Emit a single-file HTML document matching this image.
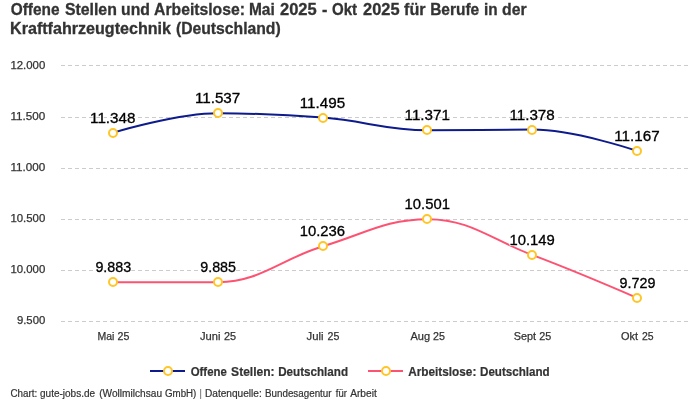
<!DOCTYPE html>
<html lang="de"><head><meta charset="utf-8"><title>Chart</title>
<style>html,body{margin:0;padding:0;background:#fff;overflow:hidden}svg{display:block;will-change:transform}text{white-space:pre}</style></head>
<body>
<svg width="700" height="400" viewBox="0 0 700 400" font-family="'Liberation Sans', sans-serif">
<rect width="700" height="400" fill="#fff"/>
<text x="10.70" y="14.8" font-size="16" font-weight="bold" fill="#333" textLength="48.80" lengthAdjust="spacingAndGlyphs" stroke="#333" stroke-width="0.3">Offene</text>
<text x="64.90" y="14.8" font-size="16" font-weight="bold" fill="#333" textLength="51.97" lengthAdjust="spacingAndGlyphs" stroke="#333" stroke-width="0.3">Stellen</text>
<text x="121.12" y="14.8" font-size="16" font-weight="bold" fill="#333" textLength="28.84" lengthAdjust="spacingAndGlyphs" stroke="#333" stroke-width="0.3">und</text>
<text x="154.10" y="14.8" font-size="16" font-weight="bold" fill="#333" textLength="90.80" lengthAdjust="spacingAndGlyphs" stroke="#333" stroke-width="0.3">Arbeitslose:</text>
<text x="248.93" y="14.8" font-size="16" font-weight="bold" fill="#333" textLength="25.80" lengthAdjust="spacingAndGlyphs" stroke="#333" stroke-width="0.3">Mai</text>
<text x="280.00" y="14.8" font-size="16" font-weight="bold" fill="#333" textLength="36.70" lengthAdjust="spacingAndGlyphs" stroke="#333" stroke-width="0.3">2025</text>
<text x="322.00" y="14.8" font-size="16" font-weight="bold" fill="#333" textLength="5.33" lengthAdjust="spacingAndGlyphs" stroke="#333" stroke-width="0.3">-</text>
<text x="332.00" y="14.8" font-size="16" font-weight="bold" fill="#333" textLength="25.07" lengthAdjust="spacingAndGlyphs" stroke="#333" stroke-width="0.3">Okt</text>
<text x="363.00" y="14.8" font-size="16" font-weight="bold" fill="#333" textLength="36.50" lengthAdjust="spacingAndGlyphs" stroke="#333" stroke-width="0.3">2025</text>
<text x="404.10" y="14.8" font-size="16" font-weight="bold" fill="#333" textLength="21.53" lengthAdjust="spacingAndGlyphs" stroke="#333" stroke-width="0.3">für</text>
<text x="430.13" y="14.8" font-size="16" font-weight="bold" fill="#333" textLength="49.07" lengthAdjust="spacingAndGlyphs" stroke="#333" stroke-width="0.3">Berufe</text>
<text x="483.94" y="14.8" font-size="16" font-weight="bold" fill="#333" textLength="13.60" lengthAdjust="spacingAndGlyphs" stroke="#333" stroke-width="0.3">in</text>
<text x="502.10" y="14.8" font-size="16" font-weight="bold" fill="#333" textLength="24.52" lengthAdjust="spacingAndGlyphs" stroke="#333" stroke-width="0.3">der</text>
<text x="10.09" y="33.7" font-size="16" font-weight="bold" fill="#333" textLength="160.90" lengthAdjust="spacingAndGlyphs" stroke="#333" stroke-width="0.3">Kraftfahrzeugtechnik</text>
<text x="175.90" y="33.7" font-size="16" font-weight="bold" fill="#333" textLength="104.82" lengthAdjust="spacingAndGlyphs" stroke="#333" stroke-width="0.3">(Deutschland)</text>
<path d="M 61 65.5 L 690 65.5" stroke="#cccccc" stroke-width="1" stroke-dasharray="4,3" fill="none"/>
<path d="M 61 117.5 L 690 117.5" stroke="#cccccc" stroke-width="1" stroke-dasharray="4,3" fill="none"/>
<path d="M 61 168.5 L 690 168.5" stroke="#cccccc" stroke-width="1" stroke-dasharray="4,3" fill="none"/>
<path d="M 61 219.5 L 690 219.5" stroke="#cccccc" stroke-width="1" stroke-dasharray="4,3" fill="none"/>
<path d="M 61 270.5 L 690 270.5" stroke="#cccccc" stroke-width="1" stroke-dasharray="4,3" fill="none"/>
<path d="M 61 321.5 L 690 321.5" stroke="#cccccc" stroke-width="1" stroke-dasharray="4,3" fill="none"/>
<text x="10.40" y="68.8" font-size="10.7" font-weight="normal" fill="#333" textLength="34.84" lengthAdjust="spacingAndGlyphs" stroke="#333" stroke-width="0.25">12.000</text>
<text x="10.40" y="119.9" font-size="10.7" font-weight="normal" fill="#333" textLength="34.84" lengthAdjust="spacingAndGlyphs" stroke="#333" stroke-width="0.25">11.500</text>
<text x="10.40" y="171.0" font-size="10.7" font-weight="normal" fill="#333" textLength="34.84" lengthAdjust="spacingAndGlyphs" stroke="#333" stroke-width="0.25">11.000</text>
<text x="10.40" y="222.2" font-size="10.7" font-weight="normal" fill="#333" textLength="34.84" lengthAdjust="spacingAndGlyphs" stroke="#333" stroke-width="0.25">10.500</text>
<text x="10.40" y="273.2" font-size="10.7" font-weight="normal" fill="#333" textLength="34.84" lengthAdjust="spacingAndGlyphs" stroke="#333" stroke-width="0.25">10.000</text>
<text x="16.90" y="324.4" font-size="10.7" font-weight="normal" fill="#333" textLength="28.34" lengthAdjust="spacingAndGlyphs" stroke="#333" stroke-width="0.25">9.500</text>
<text x="97.50" y="339.8" font-size="11" font-weight="normal" fill="#333" textLength="16.92" lengthAdjust="spacingAndGlyphs" stroke="#333" stroke-width="0.25">Mai</text>
<text x="117.50" y="339.8" font-size="11" font-weight="normal" fill="#333" textLength="11.81" lengthAdjust="spacingAndGlyphs" stroke="#333" stroke-width="0.25">25</text>
<text x="200.00" y="339.8" font-size="11" font-weight="normal" fill="#333" textLength="20.45" lengthAdjust="spacingAndGlyphs" stroke="#333" stroke-width="0.25">Juni</text>
<text x="224.00" y="339.8" font-size="11" font-weight="normal" fill="#333" textLength="12.12" lengthAdjust="spacingAndGlyphs" stroke="#333" stroke-width="0.25">25</text>
<text x="306.50" y="339.8" font-size="11" font-weight="normal" fill="#333" textLength="16.96" lengthAdjust="spacingAndGlyphs" stroke="#333" stroke-width="0.25">Juli</text>
<text x="327.50" y="339.8" font-size="11" font-weight="normal" fill="#333" textLength="11.81" lengthAdjust="spacingAndGlyphs" stroke="#333" stroke-width="0.25">25</text>
<text x="410.50" y="339.8" font-size="11" font-weight="normal" fill="#333" textLength="19.62" lengthAdjust="spacingAndGlyphs" stroke="#333" stroke-width="0.25">Aug</text>
<text x="433.00" y="339.8" font-size="11" font-weight="normal" fill="#333" textLength="11.91" lengthAdjust="spacingAndGlyphs" stroke="#333" stroke-width="0.25">25</text>
<text x="513.80" y="339.8" font-size="11" font-weight="normal" fill="#333" textLength="22.26" lengthAdjust="spacingAndGlyphs" stroke="#333" stroke-width="0.25">Sept</text>
<text x="539.30" y="339.8" font-size="11" font-weight="normal" fill="#333" textLength="12.02" lengthAdjust="spacingAndGlyphs" stroke="#333" stroke-width="0.25">25</text>
<text x="621.00" y="339.8" font-size="11" font-weight="normal" fill="#333" textLength="17.06" lengthAdjust="spacingAndGlyphs" stroke="#333" stroke-width="0.25">Okt</text>
<text x="642.00" y="339.8" font-size="11" font-weight="normal" fill="#333" textLength="11.61" lengthAdjust="spacingAndGlyphs" stroke="#333" stroke-width="0.25">25</text>
<path d="M 113.42 132.63 C 113.42 132.63 176.32 113.32 218.25 113.32 C 260.18 113.32 281.15 114.22 323.08 117.61 C 365.02 121.00 385.98 130.28 427.92 130.28 C 469.85 130.28 490.82 129.57 532.75 129.57 C 574.68 129.57 637.58 151.13 637.58 151.13" fill="none" stroke="#0d1b8c" stroke-width="2" stroke-linejoin="round" stroke-linecap="round"/>
<circle cx="113.00" cy="133.00" r="4" fill="#fff" stroke="#ffc628" stroke-width="2"/>
<circle cx="218.00" cy="113.00" r="4" fill="#fff" stroke="#ffc628" stroke-width="2"/>
<circle cx="323.00" cy="118.00" r="4" fill="#fff" stroke="#ffc628" stroke-width="2"/>
<circle cx="427.00" cy="130.00" r="4" fill="#fff" stroke="#ffc628" stroke-width="2"/>
<circle cx="532.00" cy="130.00" r="4" fill="#fff" stroke="#ffc628" stroke-width="2"/>
<circle cx="637.00" cy="151.00" r="4" fill="#fff" stroke="#ffc628" stroke-width="2"/>
<path d="M 113.42 282.36 C 113.42 282.36 176.32 282.36 218.25 282.15 C 260.18 281.95 281.15 258.87 323.08 246.28 C 365.02 233.69 385.98 219.20 427.92 219.20 C 469.85 219.20 490.82 239.39 532.75 255.17 C 574.68 270.95 637.58 298.10 637.58 298.10" fill="none" stroke="#fd5372" stroke-width="2" stroke-linejoin="round" stroke-linecap="round"/>
<circle cx="113.00" cy="282.00" r="4" fill="#fff" stroke="#ffc628" stroke-width="2"/>
<circle cx="218.00" cy="282.00" r="4" fill="#fff" stroke="#ffc628" stroke-width="2"/>
<circle cx="323.00" cy="246.00" r="4" fill="#fff" stroke="#ffc628" stroke-width="2"/>
<circle cx="427.00" cy="219.00" r="4" fill="#fff" stroke="#ffc628" stroke-width="2"/>
<circle cx="532.00" cy="255.00" r="4" fill="#fff" stroke="#ffc628" stroke-width="2"/>
<circle cx="637.00" cy="298.00" r="4" fill="#fff" stroke="#ffc628" stroke-width="2"/>
<text x="90.08" y="123.0" font-size="14" font-weight="normal" fill="#000" textLength="45.35" lengthAdjust="spacingAndGlyphs" stroke="#fff" stroke-width="2" stroke-linejoin="round">11.348</text>
<text x="90.08" y="123.0" font-size="14" font-weight="normal" fill="#000" textLength="45.35" lengthAdjust="spacingAndGlyphs" stroke="#000" stroke-width="0.3">11.348</text>
<text x="194.91" y="103.0" font-size="14" font-weight="normal" fill="#000" textLength="45.35" lengthAdjust="spacingAndGlyphs" stroke="#fff" stroke-width="2" stroke-linejoin="round">11.537</text>
<text x="194.91" y="103.0" font-size="14" font-weight="normal" fill="#000" textLength="45.35" lengthAdjust="spacingAndGlyphs" stroke="#000" stroke-width="0.3">11.537</text>
<text x="299.75" y="108.0" font-size="14" font-weight="normal" fill="#000" textLength="45.35" lengthAdjust="spacingAndGlyphs" stroke="#fff" stroke-width="2" stroke-linejoin="round">11.495</text>
<text x="299.75" y="108.0" font-size="14" font-weight="normal" fill="#000" textLength="45.35" lengthAdjust="spacingAndGlyphs" stroke="#000" stroke-width="0.3">11.495</text>
<text x="404.58" y="120.0" font-size="14" font-weight="normal" fill="#000" textLength="45.35" lengthAdjust="spacingAndGlyphs" stroke="#fff" stroke-width="2" stroke-linejoin="round">11.371</text>
<text x="404.58" y="120.0" font-size="14" font-weight="normal" fill="#000" textLength="45.35" lengthAdjust="spacingAndGlyphs" stroke="#000" stroke-width="0.3">11.371</text>
<text x="509.41" y="120.0" font-size="14" font-weight="normal" fill="#000" textLength="45.35" lengthAdjust="spacingAndGlyphs" stroke="#fff" stroke-width="2" stroke-linejoin="round">11.378</text>
<text x="509.41" y="120.0" font-size="14" font-weight="normal" fill="#000" textLength="45.35" lengthAdjust="spacingAndGlyphs" stroke="#000" stroke-width="0.3">11.378</text>
<text x="614.25" y="141.0" font-size="14" font-weight="normal" fill="#000" textLength="45.35" lengthAdjust="spacingAndGlyphs" stroke="#fff" stroke-width="2" stroke-linejoin="round">11.167</text>
<text x="614.25" y="141.0" font-size="14" font-weight="normal" fill="#000" textLength="45.35" lengthAdjust="spacingAndGlyphs" stroke="#000" stroke-width="0.3">11.167</text>
<text x="95.42" y="272.0" font-size="14" font-weight="normal" fill="#000" textLength="35.78" lengthAdjust="spacingAndGlyphs" stroke="#fff" stroke-width="2" stroke-linejoin="round">9.883</text>
<text x="95.42" y="272.0" font-size="14" font-weight="normal" fill="#000" textLength="35.78" lengthAdjust="spacingAndGlyphs" stroke="#000" stroke-width="0.3">9.883</text>
<text x="200.25" y="272.0" font-size="14" font-weight="normal" fill="#000" textLength="35.78" lengthAdjust="spacingAndGlyphs" stroke="#fff" stroke-width="2" stroke-linejoin="round">9.885</text>
<text x="200.25" y="272.0" font-size="14" font-weight="normal" fill="#000" textLength="35.78" lengthAdjust="spacingAndGlyphs" stroke="#000" stroke-width="0.3">9.885</text>
<text x="299.77" y="236.0" font-size="14" font-weight="normal" fill="#000" textLength="45.33" lengthAdjust="spacingAndGlyphs" stroke="#fff" stroke-width="2" stroke-linejoin="round">10.236</text>
<text x="299.77" y="236.0" font-size="14" font-weight="normal" fill="#000" textLength="45.33" lengthAdjust="spacingAndGlyphs" stroke="#000" stroke-width="0.3">10.236</text>
<text x="404.61" y="209.0" font-size="14" font-weight="normal" fill="#000" textLength="45.33" lengthAdjust="spacingAndGlyphs" stroke="#fff" stroke-width="2" stroke-linejoin="round">10.501</text>
<text x="404.61" y="209.0" font-size="14" font-weight="normal" fill="#000" textLength="45.33" lengthAdjust="spacingAndGlyphs" stroke="#000" stroke-width="0.3">10.501</text>
<text x="509.44" y="245.0" font-size="14" font-weight="normal" fill="#000" textLength="45.33" lengthAdjust="spacingAndGlyphs" stroke="#fff" stroke-width="2" stroke-linejoin="round">10.149</text>
<text x="509.44" y="245.0" font-size="14" font-weight="normal" fill="#000" textLength="45.33" lengthAdjust="spacingAndGlyphs" stroke="#000" stroke-width="0.3">10.149</text>
<text x="619.58" y="288.0" font-size="14" font-weight="normal" fill="#000" textLength="35.78" lengthAdjust="spacingAndGlyphs" stroke="#fff" stroke-width="2" stroke-linejoin="round">9.729</text>
<text x="619.58" y="288.0" font-size="14" font-weight="normal" fill="#000" textLength="35.78" lengthAdjust="spacingAndGlyphs" stroke="#000" stroke-width="0.3">9.729</text>
<path d="M 150 371 L 185 371" stroke="#0d1b8c" stroke-width="2" fill="none"/>
<circle cx="168" cy="371" r="4" fill="#fff" stroke="#ffc628" stroke-width="2"/>
<text x="190.70" y="375.6" font-size="12" font-weight="bold" fill="#333" textLength="36.09" lengthAdjust="spacingAndGlyphs" stroke="#333" stroke-width="0.2">Offene</text>
<text x="231.10" y="375.6" font-size="12" font-weight="bold" fill="#333" textLength="43.50" lengthAdjust="spacingAndGlyphs" stroke="#333" stroke-width="0.2">Stellen:</text>
<text x="278.20" y="375.6" font-size="12" font-weight="bold" fill="#333" textLength="69.82" lengthAdjust="spacingAndGlyphs" stroke="#333" stroke-width="0.2">Deutschland</text>
<path d="M 368 371 L 403 371" stroke="#fd5372" stroke-width="2" fill="none"/>
<circle cx="386" cy="371" r="4" fill="#fff" stroke="#ffc628" stroke-width="2"/>
<text x="408.20" y="375.6" font-size="12" font-weight="bold" fill="#333" textLength="68.18" lengthAdjust="spacingAndGlyphs" stroke="#333" stroke-width="0.2">Arbeitslose:</text>
<text x="480.00" y="375.6" font-size="12" font-weight="bold" fill="#333" textLength="69.72" lengthAdjust="spacingAndGlyphs" stroke="#333" stroke-width="0.2">Deutschland</text>
<text x="10.50" y="397.0" font-size="10" font-weight="normal" fill="#333" textLength="26.76" lengthAdjust="spacingAndGlyphs" stroke="#333" stroke-width="0.2">Chart:</text>
<text x="40.00" y="397.0" font-size="10" font-weight="normal" fill="#333" textLength="55.06" lengthAdjust="spacingAndGlyphs" stroke="#333" stroke-width="0.2">gute-jobs.de</text>
<text x="99.20" y="397.0" font-size="10" font-weight="normal" fill="#333" textLength="62.87" lengthAdjust="spacingAndGlyphs" stroke="#333" stroke-width="0.2">(Wollmilchsau</text>
<text x="165.00" y="397.0" font-size="10" font-weight="normal" fill="#333" textLength="31.32" lengthAdjust="spacingAndGlyphs" stroke="#333" stroke-width="0.2">GmbH)</text>
<text x="199.90" y="397.0" font-size="10" font-weight="normal" fill="#333" textLength="1.56" lengthAdjust="spacingAndGlyphs" stroke="#333" stroke-width="0.2">|</text>
<text x="205.00" y="397.0" font-size="10" font-weight="normal" fill="#333" textLength="56.79" lengthAdjust="spacingAndGlyphs" stroke="#333" stroke-width="0.2">Datenquelle:</text>
<text x="265.00" y="397.0" font-size="10" font-weight="normal" fill="#333" textLength="66.54" lengthAdjust="spacingAndGlyphs" stroke="#333" stroke-width="0.2">Bundesagentur</text>
<text x="335.80" y="397.0" font-size="10" font-weight="normal" fill="#333" textLength="11.06" lengthAdjust="spacingAndGlyphs" stroke="#333" stroke-width="0.2">für</text>
<text x="350.20" y="397.0" font-size="10" font-weight="normal" fill="#333" textLength="26.57" lengthAdjust="spacingAndGlyphs" stroke="#333" stroke-width="0.2">Arbeit</text>
</svg>
</body></html>
